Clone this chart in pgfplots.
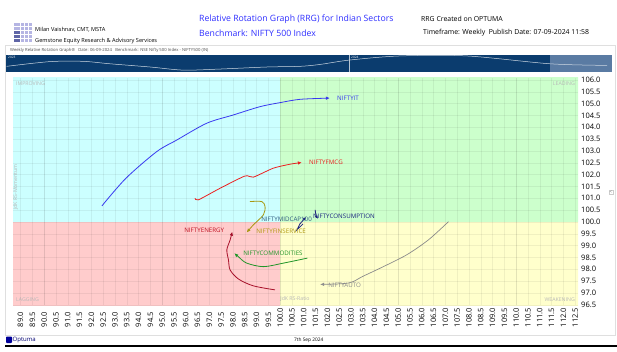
\documentclass[border=0pt]{standalone}
\usepackage{pgfplots}
\pgfplotsset{compat=1.18}
\usepackage{fontspec}
\setmainfont{Open Sans}
\usetikzlibrary{arrows.meta}
\definecolor{qcyan}{HTML}{CCFFFF}
\definecolor{qgreen}{HTML}{CCFFCC}
\definecolor{qyellow}{HTML}{FFFFCC}
\definecolor{qpink}{HTML}{FFCCCC}
\definecolor{stripblue}{HTML}{0B3C6E}
\definecolor{striplight}{HTML}{5A7BA3}
\definecolor{titleblue}{HTML}{2F2FFF}
\definecolor{cIT}{HTML}{3A3AF2}
\definecolor{cFMCG}{HTML}{EE2020}
\definecolor{cFIN}{HTML}{A89812}
\definecolor{cFINlab}{HTML}{B09A10}
\definecolor{cENE}{HTML}{A8102A}
\definecolor{cENElab}{HTML}{C01020}
\definecolor{cCOM}{HTML}{22962A}
\definecolor{cAUTO}{HTML}{8C8C8C}
\definecolor{cNAVY}{HTML}{1A2380}
\definecolor{cMIDlab}{HTML}{2E5C80}
\definecolor{cornergray}{HTML}{B8B8B8}
\begin{document}
\begin{tikzpicture}
\path[use as bounding box] (0pt,0pt) rectangle (617pt,-351pt);
\fill[white] (0pt,0pt) rectangle (617pt,-351pt);
% logo
\foreach \i in {0,...,4}{
  \foreach \j in {0,...,4}{
    \pgfmathsetmacro{\shade}{(\i<2 && \j>1) ? 1 : 0}
    \ifdim\shade pt>0.5pt
      \fill[cNAVY!70] ({13.5pt+\i*3.9pt},{-23pt-\j*3.9pt}) rectangle ++(3pt,-3pt);
    \else
      \fill[gray!55!blue!40] ({13.5pt+\i*3.9pt},{-23pt-\j*3.9pt}) rectangle ++(3pt,-3pt);
    \fi
  }
}
\node[anchor=west, inner sep=0pt, font=\fontsize{5.6}{6}\selectfont] at (35pt,-30pt) {Milan Vaishnav, CMT, MSTA};
\node[anchor=west, inner sep=0pt, font=\fontsize{5.6}{6}\selectfont] at (35pt,-41pt) {Gemstone Equity Research \& Advisory Services};
\node[anchor=west, inner sep=0pt, text=titleblue, font=\fontsize{8.7}{9}\selectfont] at (199pt,-19pt) {Relative Rotation Graph (RRG) for Indian Sectors};
\node[anchor=west, inner sep=0pt, text=titleblue, font=\fontsize{8.7}{9}\selectfont] at (199pt,-33pt) {Benchmark: NIFTY 500 Index};
\node[anchor=west, inner sep=0pt, font=\fontsize{6.9}{7}\selectfont] at (421pt,-19pt) {RRG Created on OPTUMA};
\node[anchor=west, inner sep=0pt, font=\fontsize{6.9}{7}\selectfont] at (423pt,-33pt) {Timeframe: Weekly\ \ Publish Date: 07-09-2024 11:58};
% frame
\draw[gray!25, line width=0.6pt] (5pt,-45pt) rectangle (615pt,-335pt);
\node[anchor=west, inner sep=0pt, text=black!70, font=\fontsize{4.2}{4.5}\selectfont] at (10pt,-50pt) {Weekly Relative Rotation Graph®\ \ \ Date: 06-09-2024\ \ \ Benchmark: NSE Nifty 500 Index - NIFTY500 (IN)};
% timeline strip
\begin{axis}[at={(6pt,-72pt)}, anchor=south west, scale only axis, width=606pt, height=17pt,
  xmin=6, xmax=612, ymin=0, ymax=18, axis lines=none, ticks=none, clip=true]
\addplot[fill=stripblue, draw=none] coordinates {(6,0)(612,0)(612,18)(6,18)} -- cycle;
\addplot[fill=striplight, draw=none] coordinates {(550,0)(612,0)(612,18)(550,18)} -- cycle;
\addplot[white!70!stripblue, line width=0.4pt] coordinates {(349,0)(349,18)};
\addplot[white!80!stripblue, line width=0.5pt, smooth] coordinates {
(6.7,6)(50,11)(83,11.3)(110,8.7)(150,5.3)(183,2)(217,3)(267,5.3)(300,6)(320,8)(350,12.7)(400,17)(467,17)(550,8.7)(607,7)};
\node[anchor=north west, inner sep=1pt, text=white!80, font=\fontsize{3.2}{3.5}\selectfont] at (axis cs:7,18) {2023};
\node[anchor=north west, inner sep=1pt, text=white!80, font=\fontsize{3.2}{3.5}\selectfont] at (axis cs:350,18) {2024};
\end{axis}
% main RRG axis
\begin{axis}[at={(13pt,-305pt)}, anchor=south west, scale only axis, width=565pt, height=227pt,
  xmin=88.68, xmax=112.62, ymin=96.49, ymax=106.08,
  axis on top, axis line style={draw=none}, major tick length=0pt,
  xtick distance=0.5, ytick distance=0.5, scaled ticks=false,
  /pgf/number format/fixed, /pgf/number format/fixed zerofill, /pgf/number format/precision=1,
  /pgf/number format/assume math mode=true,
  grid=major, grid style={black, opacity=0.06, line width=0.4pt},
  extra x ticks={90,95,100,105,110}, extra x tick labels={},
  extra x tick style={grid style={black, opacity=0.05, line width=0.4pt}},
  yticklabel pos=right,
  yticklabel style={anchor=west, xshift=3pt, font=\fontsize{7.5}{8}\selectfont, inner sep=0pt},
  xticklabel style={rotate=90, anchor=east, text width=21pt, align=flush left, inner sep=1pt, font=\fontsize{7.5}{8}\selectfont},
  clip=true]
% quadrants
\addplot[fill=qcyan, draw=none] coordinates {(80,100)(100,100)(100,110)(80,110)} -- cycle;
\addplot[fill=qgreen, draw=none] coordinates {(100,100)(120,100)(120,110)(100,110)} -- cycle;
\addplot[fill=qyellow, draw=none] coordinates {(100,90)(120,90)(120,100)(100,100)} -- cycle;
\addplot[fill=qpink, draw=none] coordinates {(80,90)(100,90)(100,100)(80,100)} -- cycle;
% corner texts
\node[anchor=north west, inner sep=0pt, text=cornergray, font=\fontsize{5.2}{5.5}\selectfont, xshift=3pt, yshift=-4pt] at (rel axis cs:0,1) {IMPROVING};
\node[anchor=north east, inner sep=0pt, text=cornergray, font=\fontsize{5.2}{5.5}\selectfont, xshift=-3pt, yshift=-4pt] at (rel axis cs:1,1) {LEADING};
\node[anchor=south west, inner sep=0pt, text=cornergray, font=\fontsize{5.2}{5.5}\selectfont, xshift=3pt, yshift=3pt] at (rel axis cs:0,0) {LAGGING};
\node[anchor=south east, inner sep=0pt, text=cornergray, font=\fontsize{5.2}{5.5}\selectfont, xshift=-3pt, yshift=3pt] at (rel axis cs:1,0) {WEAKENING};
\node[anchor=south west, inner sep=0pt, text=cornergray, font=\fontsize{5.2}{5.5}\selectfont, yshift=3pt] at (axis cs:100,96.49) {JdK RS-Ratio};
\node[anchor=north, rotate=90, inner sep=0pt, text=cornergray, font=\fontsize{5.2}{5.5}\selectfont, xshift=3pt] at (axis cs:88.68,101.35) {JdK RS-Momentum};
% series
\addplot[cIT, line width=0.8pt, smooth, -{Latex[length=4pt,width=3.5pt]}] coordinates {
(92.45,100.68)(93.47,101.85)(94.77,102.97)(95.62,103.46)(96.89,104.17)(98.02,104.52)(99.15,104.87)(100.0,105.04)(100.85,105.18)(102.11,105.23)};
\addplot[cFMCG, line width=0.8pt, smooth, tension=0.4, -{Latex[length=4pt,width=3.5pt]}] coordinates {
(96.39,101.00)(96.53,100.93)(97.45,101.42)(98.51,101.94)(98.86,101.89)(99.71,102.27)(100.43,102.44)(100.92,102.51)};
\addplot[cFIN, line width=0.8pt, smooth, tension=0.5, -{Latex[length=4pt,width=3.5pt]}] coordinates {
(98.72,100.86)(99.22,100.86)(99.36,100.65)(99.29,100.30)(98.86,99.87)(98.58,99.55)};
\addplot[cENE, line width=0.8pt, smooth, -{Latex[length=4pt,width=3.5pt]}] coordinates {
(99.78,97.13)(98.86,97.30)(98.23,97.59)(97.88,97.97)(97.81,98.39)(97.74,98.82)(97.88,99.24)(97.97,99.59)};
\addplot[cCOM, line width=0.8pt, smooth, -{Latex[length=4pt,width=3.5pt]}] coordinates {
(101.15,98.47)(100.14,98.26)(99.29,98.11)(98.58,98.26)(98.23,98.53)(98.06,98.68)};
\addplot[cAUTO, line width=0.7pt, smooth, tension=0.5, -{Latex[length=4pt,width=3.5pt]}] coordinates {
(107.13,100.01)(106.28,99.24)(105.36,98.61)(104.37,98.11)(103.5,97.7)(102.9,97.42)(101.69,97.36)};
\addplot[cNAVY, line width=0.8pt, sharp plot, -{Latex[length=3.5pt,width=3pt]}] coordinates {
(100.97,99.92)(100.71,99.66)(100.84,99.92)(101.10,100.21)};
\addplot[cNAVY, line width=0.8pt, sharp plot, -{Latex[length=3.5pt,width=3pt]}] coordinates {
(101.48,100.51)(101.52,100.25)(101.61,100.13)};
% labels
\node[anchor=west, inner sep=0pt, text=cIT, font=\fontsize{6.2}{7}\selectfont] at (axis cs:102.41,105.24) {NIFTYIT};
\node[anchor=west, inner sep=0pt, text=cFMCG, font=\fontsize{6.2}{7}\selectfont] at (axis cs:101.22,102.53) {NIFTYFMCG};
\node[anchor=west, inner sep=0pt, text=cMIDlab, font=\fontsize{6.2}{7}\selectfont] at (axis cs:99.19,100.13) {NIFTYMIDCAP100};
\node[anchor=west, inner sep=0pt, text=cNAVY, font=\fontsize{6.2}{7}\selectfont] at (axis cs:101.39,100.25) {NIFTYCONSUMPTION};
\node[anchor=west, inner sep=0pt, text=cFINlab, font=\fontsize{6.2}{7}\selectfont] at (axis cs:98.98,99.60) {NIFTYFINSERVICE};
\node[anchor=west, inner sep=0pt, text=cENElab, font=\fontsize{6.2}{7}\selectfont] at (axis cs:95.93,99.63) {NIFTYENERGY};
\node[anchor=west, inner sep=0pt, text=cCOM, font=\fontsize{6.2}{7}\selectfont] at (axis cs:98.43,98.69) {NIFTYCOMMODITIES};
\node[anchor=west, inner sep=0pt, text=cAUTO, font=\fontsize{6.2}{7}\selectfont] at (axis cs:102.03,97.34) {NIFTYAUTO};
\end{axis}
% side tab
\node[draw=gray!40, fill=white, inner sep=0.6pt, text=gray, font=\fontsize{4.5}{5}\selectfont] at (611pt,-192pt) {<};
% footer
\fill[blue!60!black, rounded corners=0.8pt] (6pt,-336.5pt) rectangle (12pt,-343pt);
\node[anchor=west, inner sep=0pt, text=blue!45!black, font=\fontsize{6}{6.5}\selectfont] at (12.5pt,-340pt) {Optuma};
\node[anchor=west, inner sep=0pt, font=\fontsize{4.8}{5}\selectfont] at (294pt,-340pt) {7th Sep 2024};
\fill[black] (5pt,-345.3pt) rectangle (617pt,-347pt);
\end{tikzpicture}
\end{document}
